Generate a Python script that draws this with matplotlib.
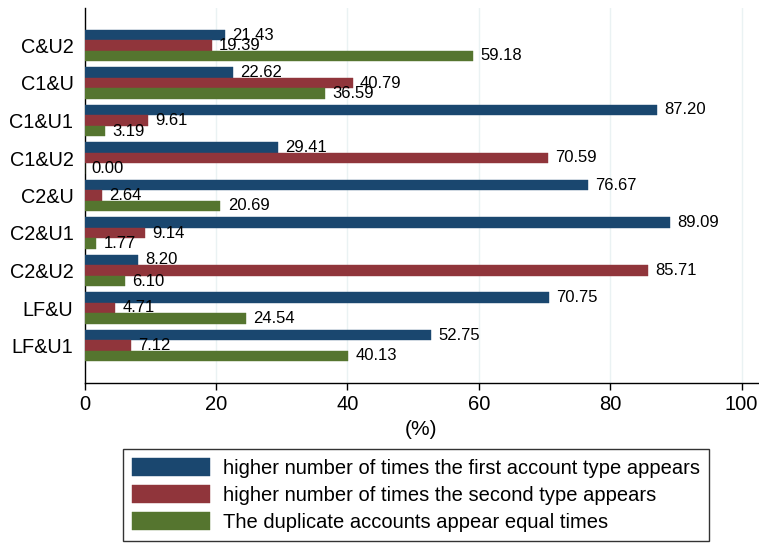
import numpy as np
import matplotlib
matplotlib.use("Agg")
import matplotlib.pyplot as plt

plt.rcParams['font.family'] = ['Liberation Sans', 'DejaVu Sans']

# data (top to bottom)
categories = ["C&U2", "C1&U", "C1&U1", "C1&U2", "C2&U", "C2&U1", "C2&U2", "LF&U", "LF&U1"]
first_type = [21.43, 22.62, 87.20, 29.41, 76.67, 89.09, 8.20, 70.75, 52.75]
second_type = [19.39, 40.79, 9.61, 70.59, 2.64, 9.14, 85.71, 4.71, 7.12]
equal_times = [59.18, 36.59, 3.19, 0.00, 20.69, 1.77, 6.10, 24.54, 40.13]
series_labels = ["higher number of times the first account type appears",
                 "higher number of times the second type appears",
                 "The duplicate accounts appear equal times"]
colors = ["#1a476f", "#90353b", "#55752f"]

fig = plt.figure(figsize=(7.59, 5.44), dpi=100)
ax = fig.add_axes([84.5 / 759, 1 - 383 / 544, (758 - 84.5) / 759, (383 - 8) / 544])

y = np.arange(len(categories))
h = 0.28
offsets = [-h, 0, h]
handles = []
for vals, off, col, lab in zip([first_type, second_type, equal_times], offsets, colors, series_labels):
    bars = ax.barh(y + off, vals, height=h, color=col, edgecolor=col, linewidth=0.3, label=lab, zorder=3)
    handles.append(bars)
    for yy, v in zip(y + off, vals):
        ax.text(v + 1.1, yy, f"{v:.2f}", va="center", ha="left", fontsize=12, zorder=4)

ax.set_ylim(len(categories), -1)
ax.set_xlim(0, 102.5)
ax.set_yticks(y)
ax.set_yticklabels(categories, fontsize=14.3)
ax.tick_params(axis="y", length=0, pad=8)
ax.set_xticks([0, 20, 40, 60, 80, 100])
ax.tick_params(axis="x", labelsize=14.5, length=5, width=1, pad=4)
ax.set_xlabel("(%)", fontsize=15, labelpad=4)

for xv in [20, 40, 60, 80, 100]:
    ax.axvline(xv, color="#eaf2f3", linewidth=1, zorder=1)

ax.spines["top"].set_visible(False)
ax.spines["right"].set_visible(False)
ax.spines["left"].set_linewidth(1)
ax.spines["bottom"].set_linewidth(1)

leg = fig.legend(handles=handles, loc="center", bbox_to_anchor=(416 / 759, 1 - 495 / 544),
                 fontsize=14.5, frameon=True, fancybox=False, edgecolor="black",
                 handlelength=3.9, handleheight=1.0, labelspacing=0.35, handletextpad=0.65,
                 borderpad=0.45, borderaxespad=0)
leg.get_frame().set_linewidth(1)

fig.savefig("out.png", dpi=100)
